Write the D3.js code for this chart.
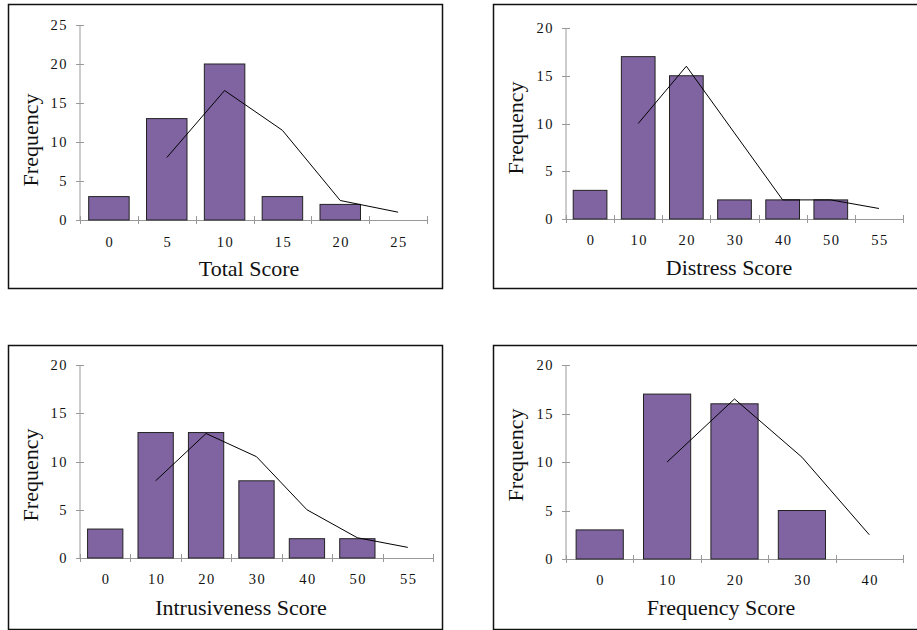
<!DOCTYPE html>
<html>
<head>
<meta charset="utf-8">
<script src="https://cdn.jsdelivr.net/npm/d3@7"></script>
<style>
  body { margin: 0; background: #fff; }
  svg { display: block; }
  text { font-family: "Liberation Serif", "Times New Roman", serif; fill: #111; }
</style>
</head>
<body>
<svg id="chart" width="917" height="630"></svg>
<script>
// data
var totalCats = ["0", "5", "10", "15", "20", "25"];
var totalBars = [3, 13, 20, 3, 2, 0];
var totalLine = [null, 8, 16.6, 11.5, 2.5, 1];
var totalTicks = [0, 5, 10, 15, 20, 25];

var distressCats = ["0", "10", "20", "30", "40", "50", "55"];
var distressBars = [3, 17, 15, 2, 2, 2, 0];
var distressLine = [null, 10, 16, 9, 2, 2, 1.1];
var distressTicks = [0, 5, 10, 15, 20];

var intrusCats = ["0", "10", "20", "30", "40", "50", "55"];
var intrusBars = [3, 13, 13, 8, 2, 2, 0];
var intrusLine = [null, 8, 12.9, 10.5, 5, 2.1, 1.1];
var intrusTicks = [0, 5, 10, 15, 20];

var freqCats = ["0", "10", "20", "30", "40"];
var freqBars = [3, 17, 16, 5, 0];
var freqLine = [null, 10, 16.5, 10.5, 2.5];
var freqTicks = [0, 5, 10, 15, 20];

// layout of the four panels
var panels = [
  {cats: totalCats, bars: totalBars, line: totalLine, ticks: totalTicks, title: "Total Score",
   box: [8, 4, 442, 288], x0: 80, x1: 427, y0: 220, y1: 25, tickY: 247, titleX: 249, titleY: 276, ylabX: 38, ylabY: 140},
  {cats: distressCats, bars: distressBars, line: distressLine, ticks: distressTicks, title: "Distress Score",
   box: [493, 4, 920, 288], x0: 566, x1: 903, y0: 219, y1: 28, tickY: 245, titleX: 729, titleY: 275, ylabX: 523, ylabY: 128},
  {cats: intrusCats, bars: intrusBars, line: intrusLine, ticks: intrusTicks, title: "Intrusiveness Score",
   box: [8, 345, 442, 629], x0: 80, x1: 433, y0: 558, y1: 365, tickY: 584, titleX: 241, titleY: 615, ylabX: 38, ylabY: 475},
  {cats: freqCats, bars: freqBars, line: freqLine, ticks: freqTicks, title: "Frequency Score",
   box: [493, 345, 920, 629], x0: 566, x1: 903, y0: 559, y1: 365, tickY: 585, titleX: 721, titleY: 615, ylabX: 523, ylabY: 455}
];

var svg = d3.select("#chart");

panels.forEach(function(p) {
  var g = svg.append("g");

  g.append("rect")
    .attr("x", p.box[0] + 0.5).attr("y", p.box[1] + 0.5)
    .attr("width", p.box[2] - p.box[0]).attr("height", p.box[3] - p.box[1])
    .attr("fill", "none").attr("stroke", "#111").attr("stroke-width", 1.5);

  var x = d3.scaleBand().domain(p.cats).range([p.x0, p.x1]).paddingInner(0.3).paddingOuter(0.15);
  var xEdge = d3.scaleLinear().domain([0, p.cats.length]).range([p.x0, p.x1]);
  var y = d3.scaleLinear().domain([0, d3.max(p.ticks)]).range([p.y0, p.y1]);

  // axes
  g.append("line").attr("x1", p.x0).attr("x2", p.x0).attr("y1", y(d3.max(p.ticks))).attr("y2", p.y0)
    .attr("stroke", "#999");
  g.append("line").attr("x1", p.x0).attr("x2", p.x1).attr("y1", p.y0 + 0.5).attr("y2", p.y0 + 0.5)
    .attr("stroke", "#999");

  g.selectAll(".yt").data(p.ticks).enter().append("line")
    .attr("x1", p.x0 - 4).attr("x2", p.x0 + 4)
    .attr("y1", function(d) { return Math.round(y(d)) + 0.5; })
    .attr("y2", function(d) { return Math.round(y(d)) + 0.5; })
    .attr("stroke", "#999");
  g.selectAll(".yl").data(p.ticks).enter().append("text")
    .attr("x", p.x0 - 12).attr("y", function(d) { return y(d) + 5; })
    .attr("text-anchor", "end").attr("font-size", 14.5).attr("letter-spacing", 1.5)
    .text(function(d) { return d; });

  g.selectAll(".xt").data(d3.range(p.cats.length + 1)).enter().append("line")
    .attr("x1", function(d) { return Math.round(xEdge(d)) + 0.5; })
    .attr("x2", function(d) { return Math.round(xEdge(d)) + 0.5; })
    .attr("y1", p.y0 - 4).attr("y2", p.y0 + 4)
    .attr("stroke", "#999");
  g.selectAll(".xl").data(p.cats).enter().append("text")
    .attr("x", function(d) { return x(d) + x.bandwidth() / 2 + 1; })
    .attr("y", p.tickY)
    .attr("text-anchor", "middle").attr("font-size", 14.5).attr("letter-spacing", 1.5)
    .text(function(d) { return d; });

  // bars
  g.selectAll(".bar").data(p.cats.filter(function(c, i) { return p.bars[i] > 0; })).enter().append("rect")
    .attr("x", function(d) { return x(d); })
    .attr("y", function(d) { return y(p.bars[p.cats.indexOf(d)]); })
    .attr("width", x.bandwidth())
    .attr("height", function(d) { return p.y0 - y(p.bars[p.cats.indexOf(d)]); })
    .attr("fill", "#8064a2").attr("stroke", "#222").attr("stroke-width", 1);

  // line
  var line = d3.line()
    .defined(function(d) { return d != null; })
    .x(function(d, i) { return x(p.cats[i]) + x.bandwidth() / 2; })
    .y(function(d) { return y(d); });
  g.append("path").datum(p.line).attr("d", line)
    .attr("fill", "none").attr("stroke", "#000").attr("stroke-width", 1);

  // titles
  g.append("text").attr("x", p.titleX).attr("y", p.titleY)
    .attr("text-anchor", "middle").attr("font-size", 22)
    .text(p.title);
  g.append("text")
    .attr("transform", "translate(" + p.ylabX + "," + p.ylabY + ") rotate(-90)")
    .attr("text-anchor", "middle").attr("font-size", 22)
    .text("Frequency");
});
</script>
</body>
</html>
